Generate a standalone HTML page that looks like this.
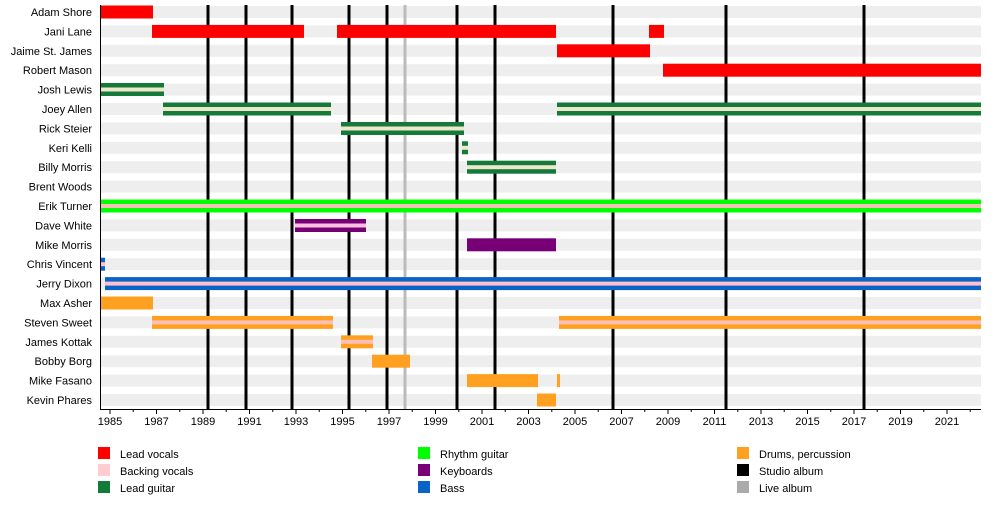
<!DOCTYPE html>
<html><head><meta charset="utf-8"><style>
body{margin:0;background:#fff}
svg{display:block;font-family:"Liberation Sans",sans-serif}
</style></head><body>
<svg width="1000" height="505" xmlns="http://www.w3.org/2000/svg">
<g fill="#eeeeee">
<rect x="101" y="6" width="880" height="12"/><rect x="101" y="25.4" width="880" height="12"/><rect x="101" y="44.8" width="880" height="12"/><rect x="101" y="64.2" width="880" height="12"/><rect x="101" y="83.6" width="880" height="12"/><rect x="101" y="103" width="880" height="12"/><rect x="101" y="122.4" width="880" height="12"/><rect x="101" y="141.8" width="880" height="12"/><rect x="101" y="161.2" width="880" height="12"/><rect x="101" y="180.6" width="880" height="12"/><rect x="101" y="200" width="880" height="12"/><rect x="101" y="219.4" width="880" height="12"/><rect x="101" y="238.8" width="880" height="12"/><rect x="101" y="258.2" width="880" height="12"/><rect x="101" y="277.6" width="880" height="12"/><rect x="101" y="297" width="880" height="12"/><rect x="101" y="316.4" width="880" height="12"/><rect x="101" y="335.8" width="880" height="12"/><rect x="101" y="355.2" width="880" height="12"/><rect x="101" y="374.6" width="880" height="12"/><rect x="101" y="394" width="880" height="12"/>
</g>
<g stroke="#000" stroke-width="3">
<line x1="208" y1="5" x2="208" y2="409"/><line x1="246" y1="5" x2="246" y2="409"/><line x1="292" y1="5" x2="292" y2="409"/><line x1="349" y1="5" x2="349" y2="409"/><line x1="387" y1="5" x2="387" y2="409"/><line x1="457" y1="5" x2="457" y2="409"/><line x1="495" y1="5" x2="495" y2="409"/><line x1="613" y1="5" x2="613" y2="409"/><line x1="726" y1="5" x2="726" y2="409"/><line x1="864" y1="5" x2="864" y2="409"/>
</g>
<line x1="405" y1="5" x2="405" y2="409" stroke="#bbbbbb" stroke-width="3"/>
<!-- Vocals -->
<g fill="#ff0000">
<rect x="100" y="5.5" width="53" height="13"/>
<rect x="152" y="24.9" width="152" height="13"/><rect x="337" y="24.9" width="219" height="13"/><rect x="649" y="24.9" width="15" height="13"/>
<rect x="557" y="44.3" width="93" height="13"/>
<rect x="663" y="63.7" width="318" height="13"/>
</g>
<!-- Lead guitar -->
<g fill="#137a3a">
<rect x="100" y="83" width="64" height="13"/><rect x="163" y="102.5" width="168" height="13"/><rect x="557" y="102.5" width="424" height="13"/>
<rect x="341" y="122" width="123" height="13"/><rect x="462" y="141.3" width="6" height="13"/><rect x="467" y="160.7" width="89" height="13"/>
</g>
<g fill="#f0e6cc">
<rect x="100" y="87.5" width="64" height="4"/><rect x="163" y="107" width="168" height="4"/><rect x="557" y="107" width="424" height="4"/>
<rect x="341" y="126.5" width="123" height="4"/><rect x="462" y="145.8" width="6" height="4"/><rect x="467" y="165.2" width="89" height="4"/>
</g>
<!-- Rhythm -->
<rect x="100" y="199.5" width="881" height="13" fill="#00ff00"/>
<rect x="100" y="204" width="881" height="4" fill="#f5c0b8"/>
<!-- Keyboards -->
<rect x="295" y="219" width="71" height="13" fill="#770077"/>
<rect x="295" y="223.5" width="71" height="4" fill="#ffc0e0"/>
<rect x="467" y="238.3" width="89" height="13" fill="#770077"/>
<!-- Bass -->
<g fill="#0a64c8"><rect x="100" y="257.7" width="5" height="13"/><rect x="105" y="277.1" width="876" height="13"/></g>
<g fill="#ffc0cb"><rect x="100" y="262.2" width="5" height="4"/><rect x="105" y="281.6" width="876" height="4"/></g>
<!-- Drums -->
<g fill="#ffa020">
<rect x="100" y="296.5" width="53" height="13"/>
<rect x="152" y="315.9" width="181" height="13"/><rect x="559" y="315.9" width="422" height="13"/>
<rect x="341" y="335.3" width="32" height="13"/>
<rect x="372" y="354.7" width="38" height="13"/>
<rect x="467" y="374.1" width="71" height="13"/><rect x="557" y="374.1" width="3" height="13"/>
<rect x="537" y="393.5" width="19" height="13"/>
</g>
<g fill="#ffc0b8"><rect x="152" y="320.4" width="181" height="4"/><rect x="559" y="320.4" width="422" height="4"/><rect x="341" y="339.8" width="32" height="4"/></g>
<!-- axes -->
<line x1="100.5" y1="5" x2="100.5" y2="409" stroke="#000"/>
<line x1="100" y1="409.5" x2="981" y2="409.5" stroke="#000"/>
<g stroke="#000">
<line x1="110" y1="409" x2="110" y2="414"/><line x1="156.5" y1="409" x2="156.5" y2="414"/><line x1="203" y1="409" x2="203" y2="414"/><line x1="249.5" y1="409" x2="249.5" y2="414"/><line x1="296" y1="409" x2="296" y2="414"/><line x1="342.5" y1="409" x2="342.5" y2="414"/><line x1="389" y1="409" x2="389" y2="414"/><line x1="435.5" y1="409" x2="435.5" y2="414"/><line x1="482" y1="409" x2="482" y2="414"/><line x1="528.5" y1="409" x2="528.5" y2="414"/><line x1="575" y1="409" x2="575" y2="414"/><line x1="621.5" y1="409" x2="621.5" y2="414"/><line x1="668" y1="409" x2="668" y2="414"/><line x1="714.5" y1="409" x2="714.5" y2="414"/><line x1="761" y1="409" x2="761" y2="414"/><line x1="807.5" y1="409" x2="807.5" y2="414"/><line x1="854" y1="409" x2="854" y2="414"/><line x1="900.5" y1="409" x2="900.5" y2="414"/><line x1="947" y1="409" x2="947" y2="414"/>
<line x1="133.2" y1="409" x2="133.2" y2="412"/><line x1="179.8" y1="409" x2="179.8" y2="412"/><line x1="226.2" y1="409" x2="226.2" y2="412"/><line x1="272.8" y1="409" x2="272.8" y2="412"/><line x1="319.2" y1="409" x2="319.2" y2="412"/><line x1="365.8" y1="409" x2="365.8" y2="412"/><line x1="412.2" y1="409" x2="412.2" y2="412"/><line x1="458.8" y1="409" x2="458.8" y2="412"/><line x1="505.2" y1="409" x2="505.2" y2="412"/><line x1="551.8" y1="409" x2="551.8" y2="412"/><line x1="598.2" y1="409" x2="598.2" y2="412"/><line x1="644.8" y1="409" x2="644.8" y2="412"/><line x1="691.2" y1="409" x2="691.2" y2="412"/><line x1="737.8" y1="409" x2="737.8" y2="412"/><line x1="784.2" y1="409" x2="784.2" y2="412"/><line x1="830.8" y1="409" x2="830.8" y2="412"/><line x1="877.2" y1="409" x2="877.2" y2="412"/><line x1="923.8" y1="409" x2="923.8" y2="412"/><line x1="970.2" y1="409" x2="970.2" y2="412"/>
</g>
<g font-size="11" text-anchor="middle" fill="#000">
<text x="110" y="425">1985</text><text x="156.5" y="425">1987</text><text x="203" y="425">1989</text><text x="249.5" y="425">1991</text><text x="296" y="425">1993</text><text x="342.5" y="425">1995</text><text x="389" y="425">1997</text><text x="435.5" y="425">1999</text><text x="482" y="425">2001</text><text x="528.5" y="425">2003</text><text x="575" y="425">2005</text><text x="621.5" y="425">2007</text><text x="668" y="425">2009</text><text x="714.5" y="425">2011</text><text x="761" y="425">2013</text><text x="807.5" y="425">2015</text><text x="854" y="425">2017</text><text x="900.5" y="425">2019</text><text x="947" y="425">2021</text>
</g>
<g font-size="11" text-anchor="end" fill="#000">
<text x="92" y="16">Adam Shore</text><text x="92" y="35.4">Jani Lane</text><text x="92" y="54.8">Jaime St. James</text><text x="92" y="74.2">Robert Mason</text><text x="92" y="93.6">Josh Lewis</text><text x="92" y="113">Joey Allen</text><text x="92" y="132.4">Rick Steier</text><text x="92" y="151.8">Keri Kelli</text><text x="92" y="171.2">Billy Morris</text><text x="92" y="190.6">Brent Woods</text><text x="92" y="210">Erik Turner</text><text x="92" y="229.4">Dave White</text><text x="92" y="248.8">Mike Morris</text><text x="92" y="268.2">Chris Vincent</text><text x="92" y="287.6">Jerry Dixon</text><text x="92" y="307">Max Asher</text><text x="92" y="326.4">Steven Sweet</text><text x="92" y="345.8">James Kottak</text><text x="92" y="365.2">Bobby Borg</text><text x="92" y="384.6">Mike Fasano</text><text x="92" y="404">Kevin Phares</text>
</g>
<!-- legend -->
<rect x="98" y="447" width="12" height="12" fill="#ff0000"/><rect x="98" y="464" width="12" height="12" fill="#ffccd2"/><rect x="98" y="481" width="12" height="12" fill="#137a3a"/>
<rect x="418" y="447" width="12" height="12" fill="#00ff00"/><rect x="418" y="464" width="12" height="12" fill="#770077"/><rect x="418" y="481" width="12" height="12" fill="#0a64c8"/>
<rect x="737" y="447" width="12" height="12" fill="#ffa020"/><rect x="737" y="464" width="12" height="12" fill="#000"/><rect x="737" y="481" width="12" height="12" fill="#aaaaaa"/>
<g font-size="11" fill="#000">
<text x="120" y="458">Lead vocals</text><text x="120" y="475">Backing vocals</text><text x="120" y="492">Lead guitar</text>
<text x="440" y="458">Rhythm guitar</text><text x="440" y="475">Keyboards</text><text x="440" y="492">Bass</text>
<text x="759" y="458">Drums, percussion</text><text x="759" y="475">Studio album</text><text x="759" y="492">Live album</text>
</g>
</svg>
</body></html>
